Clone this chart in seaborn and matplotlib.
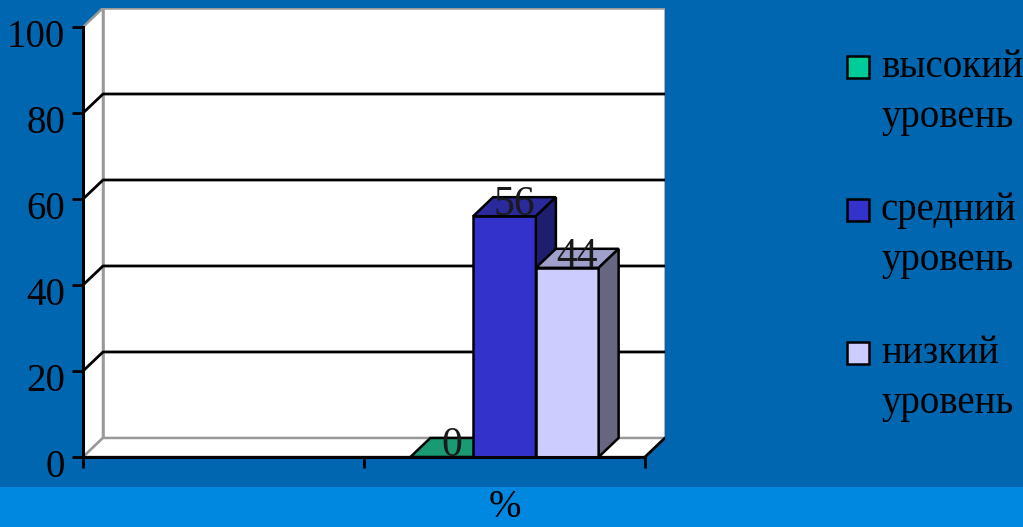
import numpy as np
import pandas as pd
import matplotlib
matplotlib.use("Agg")
import matplotlib.pyplot as plt
from matplotlib.patches import Polygon, Rectangle
from matplotlib.transforms import ScaledTranslation
import seaborn as sns

# данные
groups = ["", "%"]
levels = ["высокий\nуровень", "средний\nуровень", "низкий\nуровень"]
values = [0, 56, 44]
yticks = [0, 20, 40, 60, 80, 100]

front_colors = ["#00cc99", "#3333cc", "#ccccff"]
top_colors = ["#1a9a73", "#2a2a9c", "#a0a0cc"]
side_colors = ["#0f6e52", "#1e1e6e", "#666680"]

bg = "#0066b0"
strip = "#0088e0"
W, H = 1023, 527

df = pd.DataFrame({"group": "%", "level": levels, "value": values})

sns.set_theme(style="white")
plt.rcParams["font.family"] = ["Liberation Serif", "DejaVu Serif"]
plt.rcParams["text.color"] = "black"
plt.rcParams["xtick.labelcolor"] = "black"
plt.rcParams["ytick.labelcolor"] = "black"

fig = plt.figure(figsize=(W / 100, H / 100), dpi=100)
fig.patch.set_facecolor(bg)
fig.patches.append(Rectangle((0, 0), 1, 40 / H, transform=fig.transFigure,
                             facecolor=strip, edgecolor="none", zorder=-10))

ax = fig.add_axes([83 / W, (H - 457) / H, (665 - 83) / W, (457 - 8) / H])
ax.set_facecolor("none")

# глубина 3D
dx = 20 / 281
dy = 19 / 4.29

sns.barplot(data=df, x="group", y="value", hue="level", order=groups,
            hue_order=levels, palette=front_colors, saturation=1, width=0.67, gap=0,
            edgecolor="black", linewidth=1.8, legend=False, ax=ax)

ax.set_xlim(-0.5, 1.5 + dx)
ax.set_ylim(0, 100 + dy)

# стены и пол
ax.add_patch(Rectangle((-0.5 + dx, dy), 2, 100, facecolor="white",
                       edgecolor="#999999", lw=1.8, zorder=0))
ax.add_patch(Polygon([(-0.5, 0), (-0.5 + dx, dy), (-0.5 + dx, 100 + dy), (-0.5, 100)],
                     facecolor="white", edgecolor="#999999", lw=1.8, zorder=0))
ax.add_patch(Polygon([(-0.5, 0), (1.5, 0), (1.5 + dx, dy), (-0.5 + dx, dy)],
                     facecolor="white", edgecolor="#999999", lw=1.8, zorder=0))
for v in yticks[1:-1]:
    ax.plot([-0.5, -0.5 + dx, 1.5 + dx], [v, v + dy, v + dy], color="black", lw=2, zorder=1)
ax.plot([1.5, 1.5 + dx], [0, dy], color="black", lw=2, zorder=2)

# грани столбиков
bars = [p for p in ax.patches if isinstance(p, Rectangle) and p.get_width() < 1]
bars = sorted(bars, key=lambda p: p.get_x())
for i, p in enumerate(bars):
    x, w, h = p.get_x(), p.get_width(), p.get_height()
    p.set_zorder(4 + 3 * i)
    ax.add_patch(Polygon([(x, h), (x + w, h), (x + w + dx, h + dy), (x + dx, h + dy)],
                         facecolor=top_colors[i], edgecolor="black", lw=1.8, zorder=5 + 3 * i))
    if h > 0:
        ax.add_patch(Polygon([(x + w, 0), (x + w + dx, dy), (x + w + dx, h + dy), (x + w, h)],
                             facecolor=side_colors[i], edgecolor="black", lw=1.8, zorder=6 + 3 * i))
    ax.text(x + w / 2 + dx / 2, h + dy * 0.6, str(values[i]), ha="center", va="center",
            fontsize=30, color="#1a1a1a", zorder=20)

# оси
for s in ["top", "right"]:
    ax.spines[s].set_visible(False)
ax.spines["left"].set_bounds(0, 100)
ax.spines["bottom"].set_bounds(-0.5, 1.5)
for s in ["left", "bottom"]:
    ax.spines[s].set_color("black")
    ax.spines[s].set_linewidth(2.2)
    ax.spines[s].set_zorder(30)

ax.set_yticks(yticks)
ax.set_xticks([-0.5, 0.5, 1.5], ["", "", ""])
ax.set_xticks([0, 1], groups, minor=True)
ax.tick_params(axis="y", direction="out", length=8, width=2, color="black",
               labelsize=28, pad=5, left=True, labelcolor="black")
ax.tick_params(axis="x", which="major", direction="out", length=8, width=2,
               color="black", bottom=True)
ax.tick_params(axis="x", which="minor", length=0, labelsize=28, pad=23, labelcolor="black")
ax.set_xlabel("")
ax.set_ylabel("")
for lab in ax.get_yticklabels():
    lab.set_transform(lab.get_transform() + ScaledTranslation(0, -4 / 72, fig.dpi_scale_trans))

# легенда
for i, lvl in enumerate(levels):
    fig.patches.append(Rectangle((847 / W, 1 - (78 + 143 * i) / H), 22 / W, 22 / H,
                                 transform=fig.transFigure, facecolor=front_colors[i],
                                 edgecolor="black", lw=1.8))
    fig.text(881 / W, 1 - (49 + 143 * i) / H, lvl, va="top", ha="left",
             fontsize=28, color="black", linespacing=1.45)

fig.savefig("out.png", dpi=100, facecolor=bg)
